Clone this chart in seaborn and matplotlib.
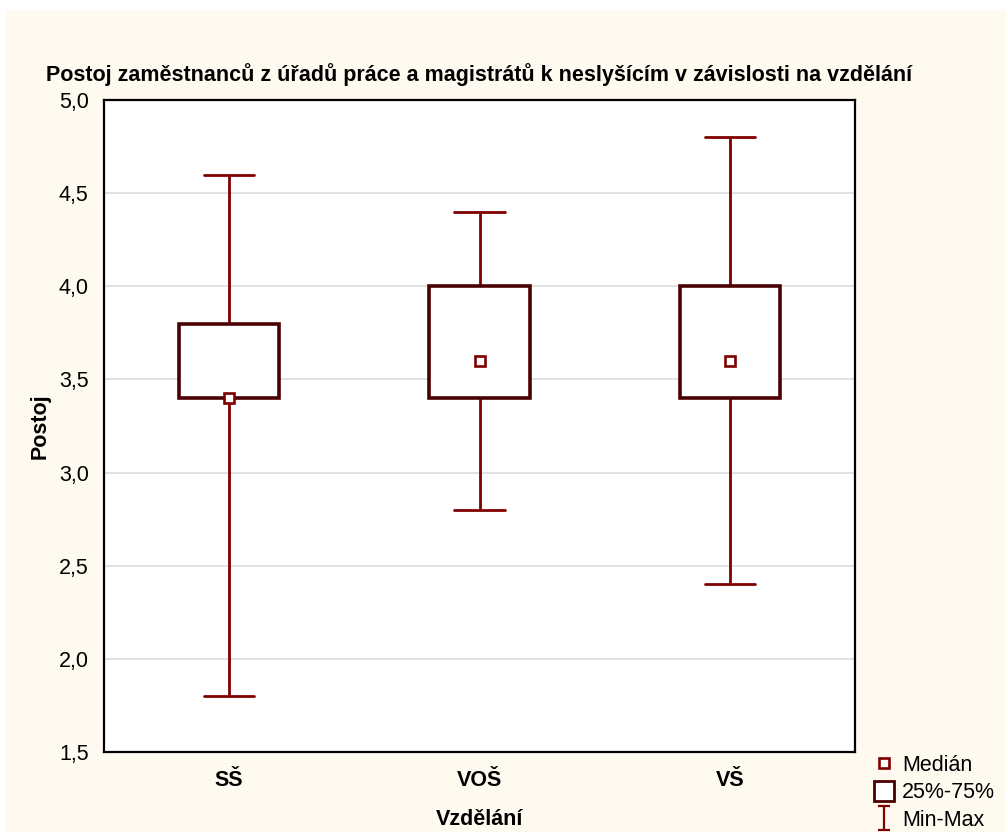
import matplotlib
matplotlib.use("Agg")
import matplotlib.pyplot as plt
import seaborn as sns
import pandas as pd
from matplotlib.lines import Line2D
from matplotlib.path import Path
from matplotlib.patches import Rectangle

categories = ["SŠ", "VOŠ", "VŠ"]
minimum = [1.8, 2.8, 2.4]
q1 = [3.4, 3.4, 3.4]
median = [3.4, 3.6, 3.6]
q3 = [3.8, 4.0, 4.0]
maximum = [4.6, 4.4, 4.8]
yticks = [1.5, 2.0, 2.5, 3.0, 3.5, 4.0, 4.5, 5.0]
ytick_labels = ["1,5", "2,0", "2,5", "3,0", "3,5", "4,0", "4,5", "5,0"]

rows = []
for i, c in enumerate(categories):
    for v in (minimum[i], q1[i], median[i], q3[i], maximum[i]):
        rows.append({"Vzdělání": c, "Postoj": v})
df = pd.DataFrame(rows)

sns.set_theme(style="white")
plt.rcParams["font.family"] = ["Liberation Sans", "DejaVu Sans"]
plt.rcParams["text.color"] = "black"
plt.rcParams["axes.labelcolor"] = "black"
plt.rcParams["xtick.color"] = "black"
plt.rcParams["ytick.color"] = "black"

FS = 15.5
BOX = "#4a0000"
RED = "#800000"
BG = "#fffaf0"

fig = plt.figure(figsize=(10.05, 8.32), dpi=100)
fig.patch.set_facecolor("white")
fig.patches.append(Rectangle((5 / 1005, 0), 1, 822 / 832, transform=fig.transFigure,
                             facecolor=BG, edgecolor="none", zorder=-10))
ax = fig.add_axes([104 / 1005, 80 / 832, 751 / 1005, 652 / 832])
ax.set_facecolor("white")

sns.boxplot(data=df, x="Vzdělání", y="Postoj", order=categories, whis=(0, 100),
            width=0.4, color="white", linecolor=RED, linewidth=2, ax=ax,
            boxprops=dict(edgecolor=BOX, linewidth=2.6, zorder=3),
            whiskerprops=dict(color=RED, linewidth=2, zorder=2),
            capprops=dict(color=RED, linewidth=2, zorder=2),
            medianprops=dict(visible=False))
sns.pointplot(data=df, x="Vzdělání", y="Postoj", order=categories, estimator="median",
              errorbar=None, linestyle="none", marker="s", markersize=6.5,
              markerfacecolor="white", markeredgecolor=RED, markeredgewidth=1.9,
              color=RED, ax=ax, zorder=5)

ax.set_ylim(1.5, 5.0)
ax.set_xlim(-0.5, 2.5)
ax.set_yticks(yticks)
ax.set_yticklabels(ytick_labels, fontsize=FS, color="black")
ax.set_xticks(range(len(categories)))
ax.set_xticklabels(categories, fontsize=FS, fontweight="bold", color="black")
ax.yaxis.grid(True, color="#dcdcdc", linewidth=1.2)
ax.set_axisbelow(True)
for s in ax.spines.values():
    s.set_visible(True)
    s.set_color("black")
    s.set_linewidth(1.6)
ax.tick_params(axis="y", direction="out", length=4, width=1.2, color="black", pad=7)
ax.tick_params(axis="x", direction="in", length=4, width=1.2, color="black", pad=13)
ax.set_xlabel("Vzdělání", fontsize=FS, fontweight="bold", labelpad=13, color="black")
ax.set_ylabel("Postoj", fontsize=FS, fontweight="bold", labelpad=6, color="black")
ax.set_title("Postoj zaměstnanců z úřadů práce a magistrátů k neslyšícím v závislosti na vzdělání",
             fontsize=FS, fontweight="bold", pad=14, color="black")

imarker = Path([(-0.5, 1), (0.5, 1), (0, 1), (0, -1), (-0.5, -1), (0.5, -1)],
               [Path.MOVETO, Path.LINETO, Path.MOVETO, Path.LINETO, Path.MOVETO, Path.LINETO])
handles = [
    Line2D([], [], linestyle="none", marker="s", markersize=6.5, markerfacecolor="white",
           markeredgecolor=RED, markeredgewidth=1.9),
    Line2D([], [], linestyle="none", marker="s", markersize=15, markerfacecolor="white",
           markeredgecolor=BOX, markeredgewidth=2),
    Line2D([], [], linestyle="none", marker=imarker, markersize=17, markerfacecolor="none",
           markeredgecolor=RED, markeredgewidth=1.6),
]
fig.legend(handles, ["Medián", "25%-75%", "Min-Max"], loc="lower left",
           bbox_to_anchor=(858 / 1005, -14 / 832), frameon=False, fontsize=FS,
           handlelength=1.0, handletextpad=0.35, labelspacing=0.3, borderpad=0.2)

fig.savefig("out.png", dpi=100, facecolor=fig.get_facecolor())
